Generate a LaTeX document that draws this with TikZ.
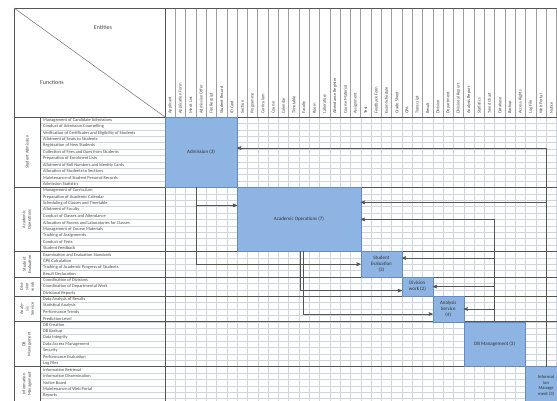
\documentclass[tikz,border=0pt]{standalone}
\usepackage{fontspec}
\setmainfont{Carlito}
\usetikzlibrary{positioning, arrows, calc}
\definecolor{boxblue}{RGB}{141,180,226}
\definecolor{boxline}{RGB}{100,138,192}
\definecolor{gridgray}{RGB}{206,213,224}
\definecolor{rulegray}{RGB}{85,85,85}
\definecolor{txtgray}{RGB}{70,70,70}

\begin{document}
\begin{tikzpicture}[x=1pt,y=-1pt,>=stealth',
    func/.style={anchor=west,inner sep=0pt,font=\fontsize{4.4}{5}\selectfont,text=txtgray},
    ent/.style={anchor=west,rotate=90,inner sep=0pt,font=\fontsize{4.4}{5}\selectfont,text=txtgray},
    grp/.style={rotate=90,align=center,inner sep=0pt,font=\fontsize{4.4}{5.4}\selectfont,text=txtgray},
    blk/.style={draw=boxline,fill=boxblue,anchor=north west,inner sep=1pt,outer sep=0pt,align=center,font=\fontsize{5}{6}\selectfont,text=black!80},
    conn/.style={->,draw=rulegray,line width=0.6pt},
    rule/.style={draw=rulegray,line width=0.8pt}]
  \useasboundingbox (0,0) rectangle (557,401);
  \clip (0,0) rectangle (557,401);

  % grid of the matrix
  \foreach \i in {0,...,45}
    \draw[gridgray,line width=0.4pt] (40,117+\i*6.4) -- (570,117+\i*6.4);
  \foreach \j in {0,...,39}
    \draw[gridgray,line width=0.4pt] (165+\j*10.3,117) -- (165+\j*10.3,401);
  \foreach \j in {0,...,39}
    \draw[gray!75,line width=0.5pt] (165+\j*10.3,8) -- (165+\j*10.3,117);

  % frame
  \draw[rule] (14,401) -- (14,8) -- (570,8);
  \draw[rule] (14,117) -- (570,117);
  \draw[rule] (165,8) -- (165,401);
  \draw[rule] (40,117) -- (40,401);
  \foreach \y in {187.4,251.4,277,296.2,321.8,366.6}
    \draw[rule] (14,\y) -- (570,\y);
  \draw[gray,line width=0.6pt] (14,8) -- (165,117);
  \node[font=\fontsize{6}{7}\selectfont,text=txtgray] (entities) at (103,27) {Entities};
  \node[font=\fontsize{6}{7}\selectfont,text=txtgray] (functions) at (52,82) {Functions};

  % entities
  \foreach \e [count=\j] in {Applicant,Application Form,Merit List,Admission Offer,Fee Receipt,Student Record,ID Card,Section,Programme,Curriculum,Course,Calendar,Timetable,Faculty,Room,Laboratory,Attendance Register,Course Material,Assignment,Test,Feedback Form,Exam Schedule,Grade Sheet,GPA,Transcript,Result,Division,Department,Divisional Report,Analysis Report,Statistics,Trend Chart,Database,Backup,Access Rights,Log File,Web Portal,Notice}
    \node[ent] at (165+\j*10.3-5.15,114) {\e};

  % functions
  \foreach \f [count=\k] in {Management of Candidate Admissions,Conduct of Admission Counselling,Verification of Certificates and Eligibility of Students,Allotment of Seats to Students,Registration of New Students,Collection of Fees and Dues from Students,Preparation of Enrolment Lists,Allotment of Roll Numbers and Identity Cards,Allocation of Students to Sections,Maintenance of Student Personal Records,Admission Statistics,
      Management of Curriculum,Preparation of Academic Calendar,Scheduling of Classes and Timetable,Allotment of Faculty,Conduct of Classes and Attendance,Allocation of Rooms and Laboratories for Classes,Management of Course Materials,Tracking of Assignments,Conduct of Tests,Student Feedback,
      Examination and Evaluation Standards,GPA Calculation,Tracking of Academic Progress of Students,Result Declaration,
      Coordination of Divisions,Coordination of Departmental Work,Divisional Reports,
      Data Analysis of Results,Statistical Analysis,Performance Trends,Prediction Level,
      DB Creation,DB Backup,Data Integrity,Data Access Management,Security,Performance Evaluation,Log Files,
      Information Retrieval,Information Dissemination,Notice Board,Maintenance of Web Portal,Reports}
    \node[func] at (43,117+\k*6.4-3.2) {\f};

  % groups
  \node[grp] (g1) at (27,152.2) {Student Admission};
  \node[grp] (g2) at (27,219.4) {Academic\\Operations};
  \node[grp] (g3) at (27,264.2) {Student\\Evaluation};
  \node[grp] (g4) at (27,286.6) {Divi-\\sion\\work};
  \node[grp] (g5) at (27,309) {Analy-\\sis\\Service};
  \node[grp] (g6) at (27,344.2) {DB\\Management};
  \node[grp] (g7) at (27,384) {Information\\Management};

  % blocks on the diagonal
  \node[blk,minimum width=72.1pt,minimum height=70.4pt]  (adm)     at (165,117)     {Admission (3)};
  \node[blk,minimum width=123.6pt,minimum height=64pt]   (acop)    at (237.1,187.4) {Academic Operations (7)};
  \node[blk,minimum width=41.2pt,minimum height=25.6pt]  (seval)   at (360.7,251.4) {Student\\Evaluation\\(3)};
  \node[blk,minimum width=30.9pt,minimum height=19.2pt]  (divw)    at (401.9,277)   {Division\\work (2)};
  \node[blk,minimum width=30.9pt,minimum height=25.6pt]  (anserv)  at (432.8,296.2) {Analysis\\Service\\(4)};
  \node[blk,minimum width=61.8pt,minimum height=44.8pt]  (dbmgmt)  at (463.7,321.8) {DB Management (3)};
  \node[blk,minimum width=41.2pt,minimum height=38.4pt,font=\fontsize{4.6}{5.6}\selectfont] (infmgmt) at (525.5,366.6) {Informat\\ion\\Manage\\ment (3)};

  % connectors
  \coordinate (a1) at ($(adm.south west)+(31,0)$);
  \coordinate (a2) at ($(acop.south west)+(63,0)$);
  \coordinate (a3) at ($(acop.south west)+(66,0)$);
  \draw[conn] (infmgmt.north) |- ($(adm.north east)+(0,31)$);
  \draw[conn] (infmgmt.north) |- ($(acop.north east)+(0,15)$);
  \draw[conn] (dbmgmt.north) |- (acop.east);
  \draw[conn] (dbmgmt.north) |- ($(seval.north east)+(0,6.6)$);
  \draw[conn] (dbmgmt.north) |- (divw.east);
  \draw[conn] (dbmgmt.north) |- (anserv.east);
  \draw[conn] (a1) |- ($(acop.north west)+(0,18)$);
  \draw[conn] (a1) |- (seval.west);
  \draw[conn] (a2) |- ($(divw.west)+(0,4)$);
  \draw[conn] (a3) |- ($(anserv.west)+(0,5)$);
\end{tikzpicture}
\end{document}
